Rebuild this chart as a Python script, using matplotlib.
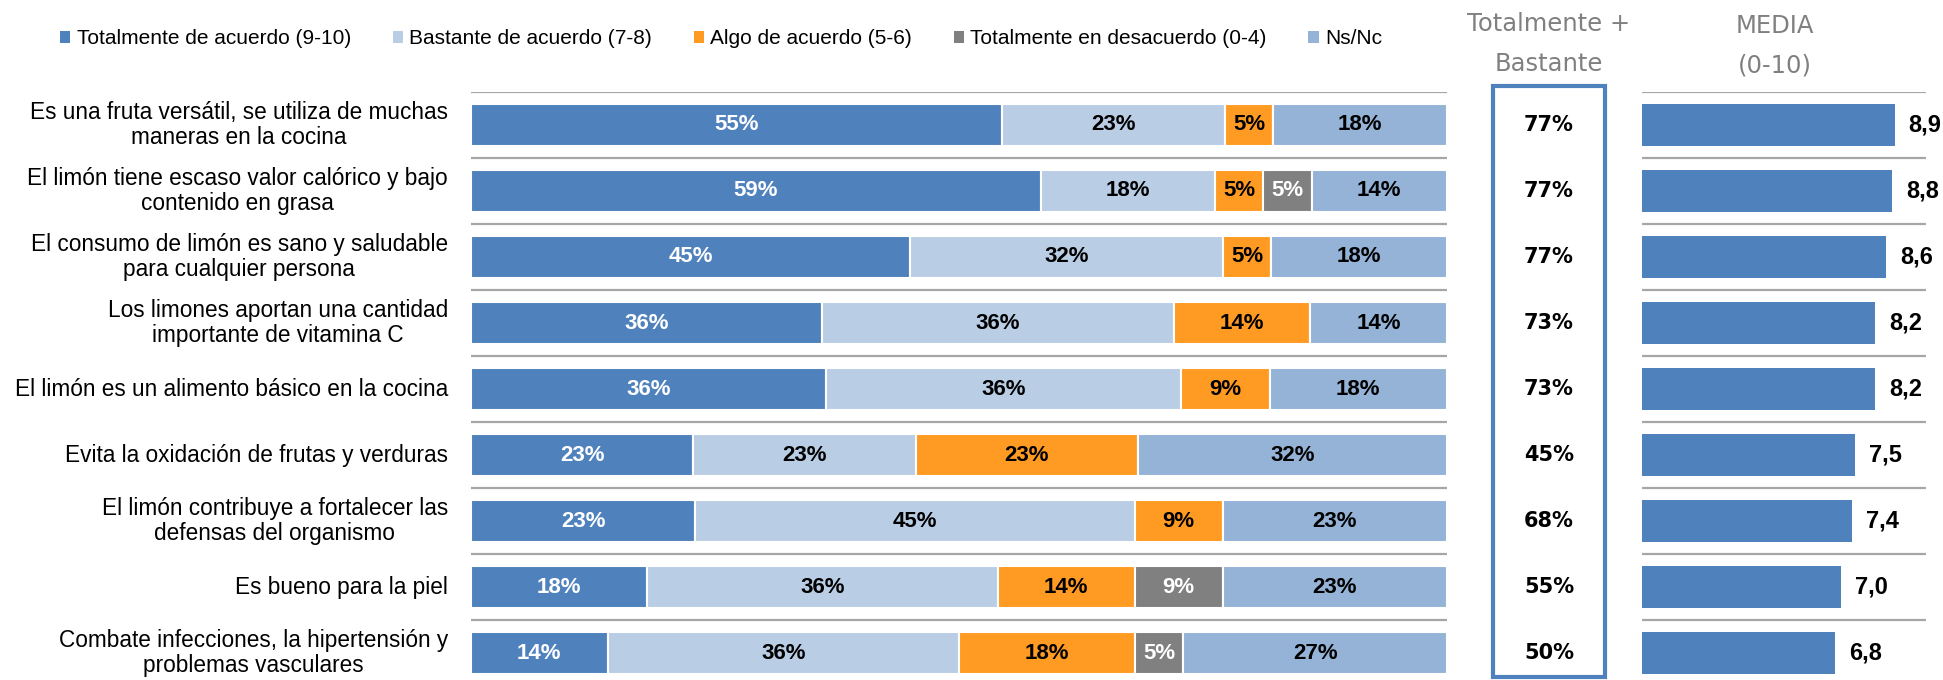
import matplotlib
matplotlib.use("Agg")
from matplotlib import pyplot as plt
from matplotlib.patches import Patch, Rectangle
import matplotlib.transforms as mtransforms
import numpy as np

plt.rcParams['font.family'] = ['Liberation Sans', 'DejaVu Sans']

categories = [
    "Es una fruta versátil, se utiliza de muchas\nmaneras en la cocina",
    "El limón tiene escaso valor calórico y bajo\ncontenido en grasa",
    "El consumo de limón es sano y saludable\npara cualquier persona",
    "Los limones aportan una cantidad\nimportante de vitamina C",
    "El limón es un alimento básico en la cocina",
    "Evita la oxidación de frutas y verduras",
    "El limón contribuye a fortalecer las\ndefensas del organismo",
    "Es bueno para la piel",
    "Combate infecciones, la hipertensión y\nproblemas vasculares",
]
totalmente = [55, 59, 45, 36, 36, 23, 23, 18, 14]
bastante = [23, 18, 32, 36, 36, 23, 45, 36, 36]
algo = [5, 5, 5, 14, 9, 23, 9, 14, 18]
desacuerdo = [0, 5, 0, 0, 0, 0, 0, 9, 5]
nsnc = [18, 14, 18, 14, 18, 32, 23, 23, 27]
top2 = [77, 77, 77, 73, 73, 45, 68, 55, 50]
media = [8.9, 8.8, 8.6, 8.2, 8.2, 7.5, 7.4, 7.0, 6.8]

series_names = ["Totalmente de acuerdo (9-10)", "Bastante de acuerdo (7-8)",
                "Algo de acuerdo (5-6)", "Totalmente en desacuerdo (0-4)", "Ns/Nc"]
colors = ["#4F81BD", "#B9CDE5", "#FF9A22", "#808080", "#95B3D7"]
text_colors = ["white", "black", "black", "white", "black"]

W, H = 1943, 680
fig = plt.figure(figsize=(W / 100, H / 100), dpi=100)

n = len(categories)
y = np.arange(n)
ytop = -0.5
ybot = -0.5 + 588 / 66  # bottom of figure in row units
ax_h = 588 / H
grid_c = "#A6A6A6"

# main stacked bars
ax = fig.add_axes([471 / W, 0, (1447 - 471) / W, ax_h])
data = np.array([totalmente, bastante, algo, desacuerdo, nsnc], dtype=float)
norm = data / data.sum(axis=0) * 100  # rows don't add to exactly 100 (rounding)
left = np.zeros(n)
for k in range(len(series_names)):
    ax.barh(y, norm[k], left=left, height=0.64, color=colors[k],
            edgecolor="white", linewidth=1.5, zorder=2)
    for i in range(n):
        if data[k, i] > 0:
            ax.text(left[i] + norm[k, i] / 2, i, f"{int(data[k, i])}%",
                    ha="center", va="center", fontsize=16, fontweight="bold",
                    color=text_colors[k], zorder=3)
    left += norm[k]
for i in range(n):
    ax.axhline(i - 0.5, color=grid_c, lw=1.6, zorder=1)
ax.set_xlim(0, 100)
ax.set_ylim(ybot, ytop)
ax.axis("off")

trans = mtransforms.blended_transform_factory(ax.transAxes, ax.transData)
for i, lab in enumerate(categories):
    ax.text(-0.0236, i, lab, transform=trans, ha="right", va="center",
            multialignment="center", fontsize=16.3, linespacing=1.12)

# Totalmente + Bastante column
ax2 = fig.add_axes([1491 / W, 0, 116 / W, ax_h])
ax2.set_xlim(0, 1)
ax2.set_ylim(ybot, ytop)
ax2.axis("off")
for i, v in enumerate(top2):
    ax2.text(0.5, i, f"{v}%", ha="center", va="center", fontsize=15,
             fontweight="bold", family="DejaVu Sans")
fig.patches.append(Rectangle((1493 / W, 3 / H), 112 / W, (594 - 3) / H,
                             transform=fig.transFigure, fill=False,
                             edgecolor="#4F81BD", linewidth=3))

# MEDIA column
ax3 = fig.add_axes([1642 / W, 0, (1926 - 1642) / W, ax_h])
ax3.barh(y, media, height=0.64, color="#4F81BD", zorder=2)
for i in range(n):
    ax3.axhline(i - 0.5, color=grid_c, lw=1.6, zorder=1)
for i, v in enumerate(media):
    ax3.annotate(f"{v:.1f}".replace(".", ","), (v, i), xytext=(10, 0),
                 textcoords="offset points", ha="left", va="center",
                 fontsize=17, fontweight="bold", annotation_clip=False)
ax3.set_xlim(0, 10)
ax3.set_ylim(ybot, ytop)
ax3.axis("off")

# column titles
title_kw = dict(ha="center", va="center", fontsize=17.5, color="#808080",
                family="DejaVu Sans")
fig.text(1549 / W, 1 - 24 / H, "Totalmente +", **title_kw)
fig.text(1549 / W, 1 - 64 / H, "Bastante", **title_kw)
fig.text(1775 / W, 1 - 26 / H, "MEDIA", **title_kw)
fig.text(1775 / W, 1 - 66 / H, "(0-10)", **title_kw)

# legend
handles = [Patch(facecolor=c, edgecolor="none") for c in colors]
fig.legend(handles, series_names, loc="center left",
           bbox_to_anchor=(60 / W, 1 - 39 / H), ncol=5, frameon=False,
           fontsize=15, handlelength=0.5, handleheight=0.5,
           handletextpad=0.3, columnspacing=2.0, borderpad=0, borderaxespad=0)

fig.savefig("out.png", dpi=100)
